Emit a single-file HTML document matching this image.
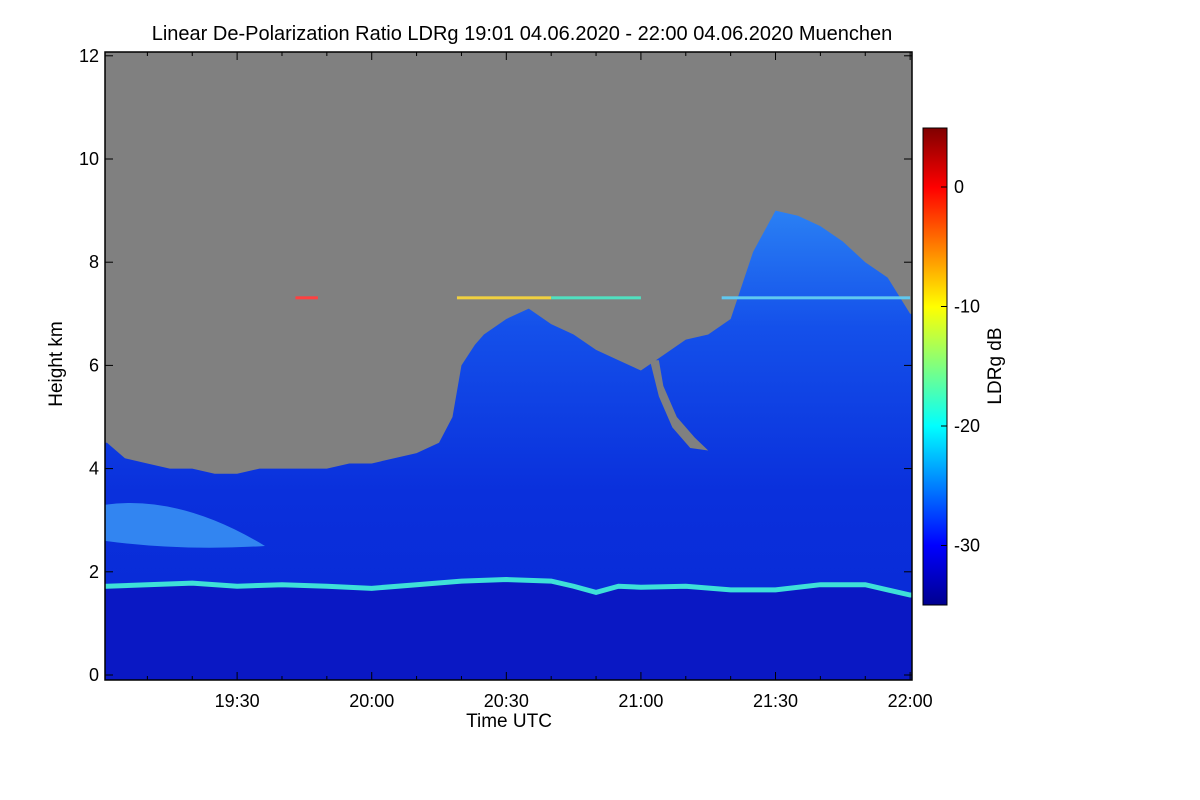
<!DOCTYPE html>
<html><head><meta charset="utf-8"><style>
html,body{margin:0;padding:0;background:#fff;width:1200px;height:800px;overflow:hidden}
svg{display:block;font-family:"Liberation Sans",sans-serif}
</style></head><body>
<svg id="chart" width="1200" height="800">
<defs>
<linearGradient id="cb" x1="0" y1="1" x2="0" y2="0">
<stop offset="0" stop-color="#00008f"/><stop offset="0.125" stop-color="#0000ff"/>
<stop offset="0.375" stop-color="#00ffff"/><stop offset="0.625" stop-color="#ffff00"/>
<stop offset="0.875" stop-color="#ff0000"/><stop offset="1" stop-color="#800000"/>
</linearGradient>
<linearGradient id="cloudG" x1="0" y1="0" x2="0" y2="1">
<stop offset="0" stop-color="#2a80f4"/><stop offset="0.25" stop-color="#1450ea"/>
<stop offset="0.6" stop-color="#0a30dc"/><stop offset="1" stop-color="#0828d4"/>
</linearGradient>
</defs>
<text x="522" y="40" text-anchor="middle" font-size="20">Linear De-Polarization Ratio LDRg   19:01 04.06.2020 - 22:00 04.06.2020 Muenchen</text>
<g id="plot"></g>
<g id="axes"></g>
</svg>
<script>
// data: minutes after 19:00, cloud top height (km)
const times = [1,5,10,15,20,25,30,35,40,45,50,55,60,65,70,75,78,80,83,85,90,95,100,105,110,115,120,125,130,135,140,145,150,155,160,165,170,175,180];
const cloudTop = [4.5,4.2,4.1,4.0,4.0,3.9,3.9,4.0,4.0,4.0,4.0,4.1,4.1,4.2,4.3,4.5,5.0,6.0,6.4,6.6,6.9,7.1,6.8,6.6,6.3,6.1,5.9,6.2,6.5,6.6,6.9,8.2,9.0,8.9,8.7,8.4,8.0,7.7,7.0];
const blTimes = [1,10,20,30,40,50,60,70,80,90,100,105,110,115,120,130,140,150,160,170,180];
const blHeight = [1.72,1.75,1.78,1.72,1.75,1.72,1.68,1.75,1.82,1.85,1.82,1.72,1.6,1.72,1.7,1.72,1.65,1.65,1.75,1.75,1.55];
const gapPts = [[122,6.1],[124,5.4],[127,4.8],[131,4.4],[135,4.35],[132,4.6],[128,5.0],[125,5.6],[124,6.1]];
const yTicks = [0,2,4,6,8,10,12];
const xTicks = [30,60,90,120,150,180];
const xTickLabels = ["19:30","20:00","20:30","21:00","21:30","22:00"];
const cbTicks = [0,-10,-20,-30];

const X0=105,X1=912,Y0=52,Y1=680;
const xS=m=>107+(m-1)*4.4867;
const yS=k=>675-k*51.6;
const NS="http://www.w3.org/2000/svg";
function mk(t,a,p){const e=document.createElementNS(NS,t);for(const k in a)e.setAttribute(k,a[k]);p.appendChild(e);return e;}
const plot=document.getElementById('plot'),axes=document.getElementById('axes');

const bg=mk('rect',{x:X0,y:Y0,width:X1-X0,height:Y1-Y0,fill:'#808080'},plot);



let d='M'+X0+','+Y1+' L'+X0+','+yS(cloudTop[0]);
times.forEach((t,i)=>{d+=' L'+xS(t)+','+yS(cloudTop[i]);});
d+=' L'+X1+','+yS(cloudTop[cloudTop.length-1])+' L'+X1+','+Y1+' Z';
const cl=mk('path',{d:d,fill:'url(#cloudG)'},plot);



const gp=mk('polygon',{points:gapPts.map(p=>xS(p[0])+','+yS(p[1])).join(' '),fill:'#808080'},plot);



const lp=mk('path',{d:'M105,'+yS(3.3)+' Q180,'+yS(3.5)+' 265,'+yS(2.5)+' Q180,'+yS(2.4)+' 105,'+yS(2.6)+' Z',fill:'#3a94f4',opacity:0.85},plot);



let ld='M'+X0+','+Y1+' L'+X0+','+yS(blHeight[0]);
blTimes.forEach((t,i)=>{ld+=' L'+xS(t)+','+yS(blHeight[i]);});
ld+=' L'+X1+','+yS(blHeight[blHeight.length-1])+' L'+X1+','+Y1+' Z';
const low=mk('path',{d:ld,fill:'#0a18c4'},plot);



let bl='M'+X0+','+yS(blHeight[0]);
blTimes.forEach((t,i)=>{bl+=' L'+xS(t)+','+yS(blHeight[i]);});
bl+=' L'+X1+','+yS(blHeight[blHeight.length-1]);
const bll=mk('path',{d:bl,fill:'none',stroke:'#3ee0d8','stroke-width':5},plot);



[[43,48,'#ff4040'],[79,100,'#f0d040'],[100,120,'#50e0c0'],[138,180,'#60c8f0']].forEach((s,i)=>{
 const r=mk('rect',{x:xS(s[0]),y:yS(7.3)-2,width:xS(s[1])-xS(s[0]),height:3,fill:s[2]},plot);
 
 
});

const fr=mk('rect',{x:X0,y:Y0,width:X1-X0,height:Y1-Y0,fill:'none',stroke:'#000','stroke-width':1.5},axes);



yTicks.forEach(v=>{
 const y=yS(v);
 mk('line',{x1:X0,x2:X0+8,y1:y,y2:y,stroke:'#000'},axes);
 mk('line',{x1:X1,x2:X1-8,y1:y,y2:y,stroke:'#000'},axes);
 const t=mk('text',{x:99,y:y+6,'text-anchor':'end','font-size':18},axes);
 t.textContent=v;
 
 
});
for(let m=10;m<=180;m+=10){
 const x=xS(m),L=(m%30===0)?8:4;
 mk('line',{x1:x,x2:x,y1:Y1,y2:Y1-L,stroke:'#000'},axes);
 mk('line',{x1:x,x2:x,y1:Y0,y2:Y0+L,stroke:'#000'},axes);
}
xTicks.forEach((m,i)=>{
 const t=mk('text',{x:xS(m),y:707,'text-anchor':'middle','font-size':18},axes);
 t.textContent=xTickLabels[i];
 
 
});
const xt=mk('text',{x:509,y:727,'text-anchor':'middle','font-size':19},axes);
xt.textContent='Time UTC';


const yt=mk('text',{x:62,y:364,'text-anchor':'middle','font-size':19,transform:'rotate(-90 62 364)'},axes);
yt.textContent='Height km';



const cb=mk('rect',{x:923,y:128,width:24,height:477,fill:'url(#cb)',stroke:'#000'},axes);


const cbY=v=>187-v*11.95;
cbTicks.forEach(v=>{
 const y=cbY(v);
 mk('line',{x1:941,x2:947,y1:y,y2:y,stroke:'#000'},axes);
 const t=mk('text',{x:954,y:y+6,'font-size':18},axes);
 t.textContent=v;
 
 
});
const ct=mk('text',{x:1001,y:366,'text-anchor':'middle','font-size':19,transform:'rotate(-90 1001 366)'},axes);
ct.textContent='LDRg dB';


</script>
</body></html>
